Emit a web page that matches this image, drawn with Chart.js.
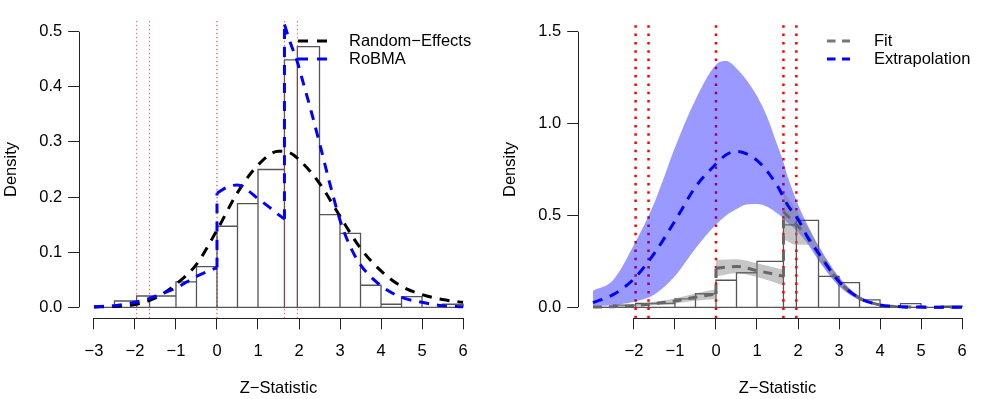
<!DOCTYPE html>
<html>
<head>
<meta charset="utf-8">
<script src="https://cdn.jsdelivr.net/npm/chart.js@4.4.0/dist/chart.umd.min.js"></script>
<style>
  html, body { margin: 0; padding: 0; background: #fff; }
  #wrap { position: relative; width: 997px; height: 399px; }
  .pane { position: absolute; top: 0; width: 498px; height: 399px; }
</style>
</head>
<body>
<div id="wrap">
  <div class="pane" style="left:0"><canvas id="leftChart" width="498" height="399"></canvas></div>
  <div class="pane" style="left:499px"><canvas id="rightChart" width="498" height="399"></canvas></div>
</div>
<script>
// histogram of z-statistics (same data in both panels)
const breaks = [-3, -2.5, -1.96, -1.645, -1, -0.5, 0, 0.5, 1, 1.645, 1.96, 2.5, 3, 3.5, 4, 4.5, 5, 5.5, 6];
const density = [0, 0.0114, 0.0205, 0.0205, 0.046, 0.0736, 0.147, 0.188, 0.25, 0.449, 0.473, 0.168, 0.134, 0.040, 0.0055, 0.0195, 0, 0.0055];
const cutoffs = [-1.96, -1.645, 0, 1.645, 1.96];

// left panel curves
const reZ = [-3, -2.5, -2, -1.5, -1, -0.5, 0, 0.5, 1, 1.5, 1.75, 2, 2.5, 3, 3.5, 4, 4.5, 5, 5.5, 6];
const reDens = [0.0005, 0.0015, 0.005, 0.017, 0.042, 0.078, 0.14, 0.208, 0.258, 0.283, 0.281, 0.268, 0.225, 0.165, 0.107, 0.066, 0.038, 0.023, 0.014, 0.009];
const robmaZ = [-3, -2.5, -2, -1.645, -1.5, -1, -0.5, 0, 0, 0.25, 0.5, 0.75, 1, 1.25, 1.5, 1.645, 1.645, 1.78, 1.96, 2.1, 2.27, 2.5, 2.75, 3, 3.25, 3.5, 4, 4.5, 5, 5.5, 6];
const robmaDens = [0.001, 0.003, 0.009, 0.016, 0.02, 0.035, 0.056, 0.072, 0.207, 0.218, 0.222, 0.212, 0.197, 0.183, 0.168, 0.16, 0.513, 0.482, 0.445, 0.408, 0.363, 0.298, 0.225, 0.158, 0.11, 0.077, 0.039, 0.018, 0.009, 0.003, 0.001];

// right panel: fit and extrapolation with intervals
const fitZ = [-3, -2.5, -2, -1.645, -1.5, -1, -0.5, 0, 0, 0.5, 1, 1.5, 1.645, 1.645, 1.96, 2.25, 2.5, 3, 3.5, 4, 4.5, 5, 6];
const fitMean = [0.001, 0.003, 0.009, 0.016, 0.02, 0.034, 0.055, 0.072, 0.212, 0.222, 0.2, 0.176, 0.168, 0.52, 0.45, 0.38, 0.295, 0.14, 0.05, 0.013, 0.003, 0.001, 0];
const fitLower = [0, 0.001, 0.004, 0.008, 0.011, 0.021, 0.036, 0.045, 0.168, 0.185, 0.165, 0.13, 0.12, 0.37, 0.34, 0.34, 0.26, 0.12, 0.042, 0.009, 0.001, 0, 0];
const fitUpper = [0.003, 0.006, 0.015, 0.025, 0.03, 0.048, 0.075, 0.098, 0.257, 0.262, 0.24, 0.212, 0.205, 0.63, 0.53, 0.43, 0.33, 0.16, 0.058, 0.017, 0.005, 0.001, 0];

const extZ = [-3, -2.5, -2, -1.5, -1, -0.5, 0, 0.25, 0.5, 0.75, 1, 1.25, 1.5, 1.645, 1.75, 2, 2.25, 2.5, 3, 3.5, 4, 4.5, 5, 6];
const extMean = [0.025, 0.07, 0.155, 0.295, 0.47, 0.655, 0.78, 0.83, 0.848, 0.835, 0.8, 0.74, 0.66, 0.6, 0.555, 0.48, 0.375, 0.295, 0.14, 0.05, 0.013, 0.003, 0.001, 0];
const extUpper = [0.09, 0.15, 0.34, 0.57, 0.87, 1.13, 1.32, 1.34, 1.3, 1.235, 1.15, 1.035, 0.88, 0.79, 0.71, 0.56, 0.44, 0.335, 0.165, 0.06, 0.018, 0.005, 0.001, 0];
const extLower = [0.005, 0.012, 0.03, 0.07, 0.17, 0.32, 0.45, 0.5, 0.535, 0.56, 0.562, 0.547, 0.51, 0.485, 0.46, 0.41, 0.34, 0.255, 0.115, 0.04, 0.008, 0.001, 0, 0];

const leftXTicks = [-3, -2, -1, 0, 1, 2, 3, 4, 5, 6];
const rightXTicks = [-2, -1, 0, 1, 2, 3, 4, 5, 6];
const leftYTicks = [0, 0.1, 0.2, 0.3, 0.4, 0.5];
const rightYTicks = [0, 0.5, 1, 1.5];

const FONT = "'Liberation Sans', Arial, sans-serif";
Chart.defaults.font.family = FONT;
Chart.defaults.font.size = 16.5;
Chart.defaults.color = "#000";

// split a curve at repeated z values (jumps) into pieces
function pieces(xs, ys) {
  const out = [];
  let cur = [];
  xs.forEach((x, i) => {
    if (i > 0 && x === xs[i - 1]) {
      out.push({ pts: cur });
      out.push({ pts: [{ x, y: ys[i - 1] }, { x, y: ys[i] }], jump: true });
      cur = [];
    }
    cur.push({ x, y: ys[i] });
  });
  out.push({ pts: cur });
  return out;
}

function dashed(xs, ys, color, dash, order) {
  return pieces(xs, ys).map(p => ({
    data: p.pts, borderColor: color, borderWidth: 3, borderDash: dash,
    pointRadius: 0, fill: false, cubicInterpolationMode: "monotone", order
  }));
}

function band(xs, lo, hi, color, order) {
  const up = pieces(xs, hi).filter(p => !p.jump);
  const low = pieces(xs, lo).filter(p => !p.jump);
  const sets = [];
  up.forEach((p, i) => {
    sets.push({ data: p.pts, borderColor: "rgba(0,0,0,0)", backgroundColor: color, pointRadius: 0,
      fill: "+1", cubicInterpolationMode: "monotone", order });
    sets.push({ data: low[i].pts, borderColor: "rgba(0,0,0,0)", pointRadius: 0,
      fill: false, cubicInterpolationMode: "monotone", order });
  });
  return sets;
}

function histogram(order) {
  const pts = [{ x: breaks[breaks.length - 1], y: 0 }, { x: breaks[0], y: 0 }];
  density.forEach((d, i) => {
    pts.push({ x: breaks[i], y: 0 }, { x: breaks[i], y: d }, { x: breaks[i + 1], y: d }, { x: breaks[i + 1], y: 0 });
  });
  return { data: pts, borderColor: "#555", borderWidth: 1.3, pointRadius: 0, fill: false, tension: 0, order };
}

function cutLines(ymin, ymax, color, width, dash, order) {
  return cutoffs.map(c => ({
    data: [{ x: c, y: ymin }, { x: c, y: ymax }], borderColor: c === 0 && width < 2 ? "rgba(190,20,20,0.85)" : color,
    borderWidth: width, borderDash: dash, pointRadius: 0, fill: false, order
  }));
}

// R style axes: line only from first to last tick
const rAxes = {
  id: "rAxes",
  afterDraw(chart) {
    const { ctx, scales: { x, y }, chartArea } = chart;
    const xt = x.ticks, yt = y.ticks;
    ctx.save();
    ctx.strokeStyle = "#222";
    ctx.lineWidth = 1;
    ctx.beginPath();
    ctx.moveTo(x.getPixelForValue(xt[0].value), Math.round(chartArea.bottom) + 0.5);
    ctx.lineTo(x.getPixelForValue(xt[xt.length - 1].value), Math.round(chartArea.bottom) + 0.5);
    ctx.moveTo(Math.round(chartArea.left) + 0.5, y.getPixelForValue(yt[0].value));
    ctx.lineTo(Math.round(chartArea.left) + 0.5, y.getPixelForValue(yt[yt.length - 1].value));
    ctx.stroke();
    ctx.restore();
  }
};

function legendPlugin(items, x0, x1, tx, dash) {
  return {
    id: "rLegend",
    afterDraw(chart) {
      const ctx = chart.ctx;
      ctx.save();
      ctx.font = "16.5px " + FONT;
      ctx.textBaseline = "middle";
      ctx.fillStyle = "#000";
      items.forEach(it => {
        ctx.strokeStyle = it.color;
        ctx.lineWidth = 3;
        ctx.setLineDash(dash);
        ctx.beginPath();
        ctx.moveTo(x0, it.y);
        ctx.lineTo(x1, it.y);
        ctx.stroke();
        ctx.fillText(it.label, tx, it.y);
      });
      ctx.restore();
    }
  };
}

function fmtX(v) { return v < 0 ? "\u2212" + Math.abs(v) : String(v); }

function makeOptions(xTicks, yTicks, ymin, ymax) {
  return {
    responsive: false,
    animation: false,
    events: [],
    layout: { padding: { left: 0, right: 20.2, top: 20.7, bottom: 0 } },
    plugins: { legend: { display: false }, tooltip: { enabled: false } },
    scales: {
      x: {
        type: "linear", min: -3.36, max: 6.36,
        afterBuildTicks: s => { s.ticks = xTicks.map(v => ({ value: v })); },
        afterFit: s => { s.height = 80.7; },
        grid: { display: true, drawOnChartArea: false, drawTicks: true, tickLength: 11, color: "#222" },
        border: { display: false },
        ticks: { padding: 12, maxRotation: 0, autoSkip: false, callback: v => fmtX(v) },
        title: { display: true, text: "Z\u2212Statistic", padding: { top: 0, bottom: 1 } }
      },
      y: {
        type: "linear", min: ymin, max: ymax,
        afterBuildTicks: s => { s.ticks = yTicks.map(v => ({ value: v })); },
        afterFit: s => { s.width = 79.2; },
        grid: { display: true, drawOnChartArea: false, drawTicks: true, tickLength: 11, color: "#222" },
        border: { display: false },
        ticks: { padding: 6, autoSkip: false, callback: v => v.toFixed(1) },
        title: { display: true, text: "Density", padding: { top: 2, bottom: 0 } }
      }
    }
  };
}

// left panel
const leftSets = [
  histogram(10),
  ...cutLines(-0.02, 0.52, "rgba(255,40,40,0.75)", 1, [1.5, 2.5], 9),
  ...dashed(reZ, reDens, "#000", [10, 8], 3),
  ...dashed(robmaZ, robmaDens, "#0000ff", [10, 8], 2)
];

new Chart(document.getElementById("leftChart"), {
  type: "line",
  data: { datasets: leftSets },
  options: makeOptions(leftXTicks, leftYTicks, -0.02, 0.52),
  plugins: [rAxes, legendPlugin([
    { label: "Random\u2212Effects", color: "#000", y: 41 },
    { label: "RoBMA", color: "#0000ff", y: 59 }
  ], 298, 327, 349, [10, 9])]
});

// right panel
const rightSets = [
  histogram(10),
  ...cutLines(-0.06, 1.56, "#ff0000", 2.5, [2.5, 5.8], 9),
  ...band(extZ, extLower, extUpper, "rgba(0,0,255,0.4)", 7),
  ...band(fitZ, fitLower, fitUpper, "rgba(128,128,128,0.45)", 6),
  ...dashed(fitZ, fitMean, "#666", [9, 7], 3),
  ...dashed(extZ, extMean, "#0000ff", [10, 8], 2)
];

new Chart(document.getElementById("rightChart"), {
  type: "line",
  data: { datasets: rightSets },
  options: makeOptions(rightXTicks, rightYTicks, -0.06, 1.56),
  plugins: [rAxes, legendPlugin([
    { label: "Fit", color: "#777", y: 41 },
    { label: "Extrapolation", color: "#0000ff", y: 59 }
  ], 328, 351, 375, [8.5, 6.5])]
});
</script>
</body>
</html>
